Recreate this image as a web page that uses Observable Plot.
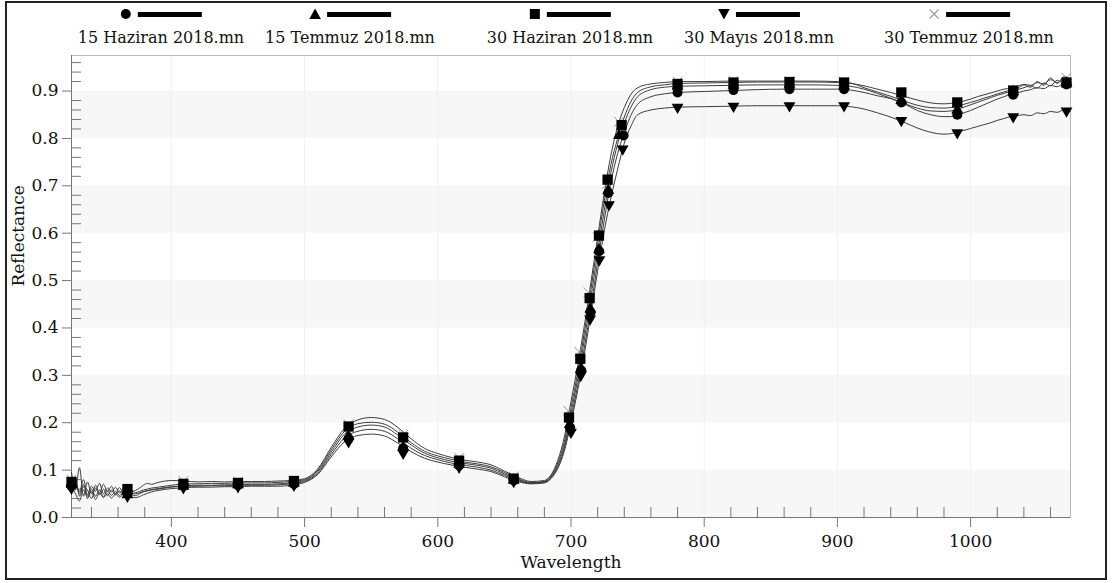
<!DOCTYPE html>
<html><head><meta charset="utf-8">
<script src="https://cdn.jsdelivr.net/npm/d3@7"></script>
<script src="https://cdn.jsdelivr.net/npm/@observablehq/plot@0.6"></script>
<style>
body{margin:0;background:#fff;font-family:"DejaVu Serif",serif;}
#wrap{position:relative;width:1113px;height:583px;overflow:hidden;}
#border{position:absolute;left:5px;top:1px;width:1102px;height:579px;border:2px solid #222;box-sizing:border-box;pointer-events:none;}
#legend{position:absolute;left:0;top:0;width:1113px;height:50px;}
.item{position:absolute;top:4px;transform:translateX(-50%);display:flex;flex-direction:column;align-items:center;}
.sym{height:20px;display:flex;align-items:center;gap:6px}
.bar{width:64px;height:5px;background:#000}
.lab{font-size:16px;color:#111;line-height:20px;white-space:nowrap;margin-top:4px}
#chart{position:absolute;left:0;top:50px;}
</style>
</head><body>
<div id="wrap"><div id="legend"></div><div id="chart"></div><div id="border"></div></div>
<script>
// ---- series names (legend order) ----
const seriesNames = ["15 Haziran 2018.mn", "15 Temmuz 2018.mn", "30 Haziran 2018.mn", "30 Mayıs 2018.mn", "30 Temmuz 2018.mn"];
const seriesSymbols = ["circle", "triangle", "square", "triangle-down", "times"];

// ---- wavelength grid (nm) ----
const wavelengths = [
  325,328,331,334,337,340,343,346,349,352,355,358,361,364,367,370,373,376,379,382,385,
  390,400,410,420,430,440,450,460,470,480,490,500,510,520,530,540,550,560,570,580,590,600,610,620,630,640,650,660,670,680,
  685,690,695,700,705,710,715,720,725,730,735,740,745,750,760,770,
  780,800,820,840,860,880,900,910,920,930,940,950,960,970,980,
  985,990,995,1000,1005,1010,1015,1020,1025,1030,1035,1040,1045,1050,1055,1060,1065,1070,1075
];

// ---- reflectance per series ----
const haziran15 = [
  0.060,0.075,0.050,0.070,0.040,0.060,0.045,0.058,0.044,0.056,0.047,0.055,0.046,0.054,0.048,0.050,0.050,0.052,0.055,0.057,0.059,
  0.061,0.065,0.066,0.066,0.067,0.067,0.068,0.068,0.068,0.069,0.071,0.076,0.094,0.133,0.168,0.182,0.186,0.182,0.166,0.146,0.131,0.122,0.115,0.110,0.106,0.100,0.089,0.078,0.072,0.074,
  0.084,0.106,0.146,0.210,0.278,0.358,0.445,0.538,0.628,0.708,0.768,0.812,0.849,0.872,0.888,0.894,
  0.897,0.899,0.901,0.903,0.904,0.904,0.904,0.902,0.897,0.890,0.884,0.873,0.859,0.850,0.846,
  0.846,0.849,0.854,0.859,0.865,0.871,0.877,0.883,0.888,0.893,0.896,0.900,0.903,0.907,0.905,0.912,0.909,0.916,0.913
];
const temmuz15 = [
  0.070,0.085,0.045,0.065,0.058,0.040,0.062,0.048,0.060,0.046,0.058,0.048,0.056,0.046,0.052,0.048,0.046,0.050,0.054,0.056,0.058,
  0.060,0.064,0.067,0.068,0.068,0.069,0.069,0.070,0.070,0.071,0.073,0.078,0.097,0.138,0.176,0.191,0.195,0.191,0.174,0.153,0.136,0.126,0.119,0.114,0.110,0.104,0.092,0.080,0.073,0.075,
  0.085,0.110,0.152,0.220,0.292,0.375,0.465,0.558,0.648,0.728,0.788,0.832,0.866,0.888,0.903,0.908,
  0.910,0.911,0.912,0.913,0.913,0.913,0.912,0.910,0.904,0.895,0.885,0.874,0.864,0.858,0.857,
  0.858,0.861,0.866,0.871,0.876,0.881,0.886,0.891,0.895,0.899,0.903,0.907,0.911,0.906,0.917,0.911,0.923,0.915,0.920
];
const haziran30 = [
  0.080,0.070,0.055,0.080,0.048,0.066,0.056,0.072,0.050,0.062,0.054,0.064,0.052,0.060,0.054,0.058,0.052,0.055,0.058,0.060,0.062,
  0.064,0.068,0.071,0.071,0.072,0.072,0.073,0.073,0.073,0.074,0.076,0.080,0.100,0.143,0.182,0.198,0.201,0.197,0.180,0.158,0.140,0.130,0.123,0.117,0.113,0.107,0.095,0.082,0.074,0.076,
  0.088,0.115,0.160,0.232,0.305,0.390,0.482,0.577,0.668,0.745,0.800,0.845,0.878,0.897,0.909,0.913,
  0.916,0.917,0.918,0.919,0.919,0.919,0.918,0.916,0.911,0.904,0.897,0.889,0.881,0.875,0.873,
  0.874,0.876,0.879,0.883,0.888,0.892,0.896,0.900,0.904,0.906,0.910,0.914,0.912,0.918,0.915,0.924,0.918,0.925,0.921
];
const mayis30 = [
  0.065,0.050,0.035,0.058,0.045,0.055,0.038,0.052,0.042,0.050,0.041,0.049,0.043,0.048,0.044,0.043,0.042,0.044,0.048,0.051,0.054,
  0.057,0.061,0.063,0.064,0.064,0.065,0.065,0.066,0.066,0.066,0.068,0.074,0.091,0.128,0.160,0.173,0.176,0.172,0.157,0.139,0.125,0.117,0.111,0.106,0.102,0.097,0.086,0.076,0.071,0.073,
  0.082,0.103,0.140,0.200,0.268,0.345,0.432,0.520,0.605,0.675,0.735,0.790,0.826,0.850,0.860,0.864,
  0.866,0.867,0.868,0.869,0.869,0.869,0.869,0.867,0.862,0.854,0.845,0.834,0.822,0.813,0.809,
  0.810,0.813,0.817,0.821,0.825,0.829,0.833,0.838,0.842,0.846,0.848,0.850,0.848,0.854,0.852,0.857,0.855,0.860,0.858
];
const temmuz30 = [
  0.095,0.060,0.105,0.045,0.075,0.050,0.068,0.052,0.070,0.055,0.066,0.050,0.063,0.052,0.060,0.055,0.057,0.062,0.068,0.072,0.070,
  0.074,0.078,0.077,0.075,0.076,0.075,0.076,0.076,0.076,0.077,0.078,0.082,0.103,0.148,0.188,0.206,0.211,0.207,0.190,0.166,0.146,0.135,0.127,0.121,0.117,0.111,0.098,0.085,0.076,0.078,
  0.090,0.120,0.170,0.245,0.320,0.405,0.497,0.592,0.685,0.765,0.825,0.865,0.893,0.907,0.915,0.918,
  0.920,0.920,0.921,0.921,0.921,0.921,0.920,0.917,0.907,0.898,0.889,0.879,0.870,0.865,0.864,
  0.865,0.867,0.872,0.876,0.880,0.885,0.889,0.894,0.898,0.902,0.905,0.913,0.908,0.920,0.912,0.928,0.916,0.930,0.924
];

// ---- marker positions per series (wavelength, reflectance) ----
const haziran15MarkWl = [325,367,409,450,492,533,574,616,657,699.3,707.7,714.7,721.2,728,739.5,780,822,864,905,948,990,1032,1072];
const haziran15MarkR  = [0.066,0.053,0.066,0.068,0.071,0.166,0.146,0.110,0.078,0.190,0.310,0.433,0.562,0.685,0.806,0.897,0.902,0.904,0.904,0.876,0.850,0.892,0.914];
const temmuz15MarkWl  = [325,367,409,450,492,533,574,616,657,699,707.5,714.5,721,728,736,780,822,864,905,948,990,1032,1072];
const temmuz15MarkR   = [0.070,0.048,0.066,0.069,0.072,0.172,0.148,0.112,0.079,0.196,0.315,0.440,0.565,0.690,0.806,0.910,0.912,0.913,0.911,0.880,0.860,0.899,0.917];
const haziran30MarkWl = [325,367,409,450,492,533,574,616,657,698.5,707,714,721,727.5,738,780,822,864,905,948,990,1032,1072];
const haziran30MarkR  = [0.075,0.060,0.071,0.073,0.077,0.192,0.169,0.120,0.082,0.211,0.335,0.463,0.595,0.713,0.828,0.915,0.918,0.919,0.918,0.897,0.876,0.901,0.918];
const mayis30MarkWl   = [325,367,409,450,492,533,574,616,657,700,707.3,714.3,721.3,728.5,738.8,780,822,864,905,948,990,1032,1072];
const mayis30MarkR    = [0.062,0.045,0.063,0.065,0.068,0.160,0.136,0.106,0.076,0.180,0.300,0.419,0.544,0.660,0.778,0.866,0.868,0.869,0.869,0.838,0.812,0.846,0.858];
const temmuz30MarkWl  = [325,367,409,450,492,533,574,616,657,698,706,713,720,727,736,780,822,864,905,948,990,1032,1072];
const temmuz30MarkR   = [0.080,0.058,0.077,0.076,0.078,0.196,0.175,0.126,0.086,0.225,0.350,0.475,0.592,0.704,0.835,0.920,0.921,0.921,0.920,0.885,0.867,0.902,0.928];

// ---- axes ----
const xMajorTicks = [400,500,600,700,800,900,1000];
const xMinorTicks = [340,360,380,420,440,460,480,520,540,560,580,620,640,660,680,720,740,760,780,820,840,860,880,920,940,960,980,1020,1040,1060];
const yMajorTicks = [0,0.1,0.2,0.3,0.4,0.5,0.6,0.7,0.8,0.9];
const yMinorTicks = [0.02,0.04,0.06,0.08,0.12,0.14,0.16,0.18,0.22,0.24,0.26,0.28,0.32,0.34,0.36,0.38,0.42,0.44,0.46,0.48,0.52,0.54,0.56,0.58,0.62,0.64,0.66,0.68,0.72,0.74,0.76,0.78,0.82,0.84,0.86,0.88,0.92,0.94,0.96];
const bandStarts = [0,0.2,0.4,0.6,0.8];
const xDomain = [325,1075];
const yDomain = [0,0.975];

// ---- build tables ----
const seriesValues = [haziran15, temmuz15, haziran30, mayis30, temmuz30];
const seriesMarkWl = [haziran15MarkWl, temmuz15MarkWl, haziran30MarkWl, mayis30MarkWl, temmuz30MarkWl];
const seriesMarkR  = [haziran15MarkR, temmuz15MarkR, haziran30MarkR, mayis30MarkR, temmuz30MarkR];

const lineData = [];
seriesValues.forEach((vals, s) => vals.forEach((r, i) => lineData.push({series: seriesNames[s], wl: wavelengths[i], r})));
const markData = seriesMarkWl.map((wls, s) => wls.map((wl, i) => ({series: seriesNames[s], wl, r: seriesMarkR[s][i]})));

// ---- legend ----
const legendSvg = {
  "circle": '<svg width="12" height="12"><circle cx="6" cy="6" r="5" fill="#000"/></svg>',
  "triangle": '<svg width="12" height="12"><polygon points="6,0.5 11.8,11 0.2,11" fill="#000"/></svg>',
  "square": '<svg width="12" height="12"><rect x="1" y="1" width="10" height="10" fill="#000"/></svg>',
  "triangle-down": '<svg width="12" height="12"><polygon points="0.2,1 11.8,1 6,11.5" fill="#000"/></svg>',
  "times": '<svg width="12" height="12"><path d="M1.5 1.5L10.5 10.5M10.5 1.5L1.5 10.5" stroke="#999" stroke-width="1.1"/></svg>'
};
const legendCenters = [161, 350, 570, 759, 969];
const legend = document.getElementById("legend");
seriesNames.forEach((name, i) => {
  const it = document.createElement("div");
  it.className = "item";
  it.style.left = legendCenters[i] + "px";
  it.innerHTML = `<div class="sym">${legendSvg[seriesSymbols[i]]}<div class="bar"></div></div><div class="lab">${name}</div>`;
  legend.appendChild(it);
});

// ---- chart ----
const dotOpts = (s) => {
  const sym = seriesSymbols[s];
  if (sym === "times") return {x: "wl", y: "r", symbol: "times", stroke: "#999", strokeWidth: 1, r: 4.5};
  if (sym === "triangle-down") return {x: "wl", y: "r", symbol: "triangle", rotate: 180, fill: "#000", r: 4.4};
  if (sym === "triangle") return {x: "wl", y: "r", symbol: "triangle", fill: "#000", r: 4.4};
  if (sym === "square") return {x: "wl", y: "r", symbol: "square", fill: "#000", r: 5.8};
  return {x: "wl", y: "r", symbol: "circle", fill: "#000", r: 5};
};
const drawOrder = [4, 3, 0, 1, 2];

const chart = Plot.plot({
  width: 1113, height: 533,
  marginTop: 5, marginLeft: 71, marginRight: 43, marginBottom: 66,
  x: {domain: xDomain},
  y: {domain: yDomain},
  style: {fontFamily: '"DejaVu Serif", serif', fontSize: "17px", color: "#111", background: "transparent"},
  marks: [
    Plot.rect(bandStarts, {y1: d => d, y2: d => d + 0.1, fill: "#f7f7f7"}),
    Plot.ruleX(xMajorTicks, {stroke: "#f0f0f0"}),
    Plot.frame({stroke: "#b8b8b8"}),
    Plot.axisX({ticks: xMinorTicks, tickSize: 10, dy: -10, tickFormat: () => "", label: null, stroke: "#777"}),
    Plot.axisX({ticks: xMajorTicks, tickSize: 10, tickPadding: 7, tickFormat: d3.format("d"), label: null, stroke: "#777", fill: "#111", fontSize: 17}),
    Plot.axisY({ticks: yMinorTicks, tickSize: 10, dx: 10, tickFormat: () => "", label: null, stroke: "#777"}),
    Plot.axisY({ticks: yMajorTicks, tickSize: 9, tickPadding: 4, tickFormat: d3.format(".1f"), label: null, stroke: "#777", fill: "#111", fontSize: 17}),
    Plot.ruleY([yDomain[0]], {stroke: "#777"}),
    Plot.ruleX([xDomain[0]], {stroke: "#777"}),
    Plot.line(lineData, {x: "wl", y: "r", z: "series", stroke: "#3c3c3c", strokeWidth: 1, curve: "monotone-x"}),
    ...drawOrder.map(s => Plot.dot(markData[s], dotOpts(s))),
    Plot.text(["Wavelength"], {frameAnchor: "bottom", dy: 50, fontSize: 17, fill: "#111"}),
    Plot.text(["Reflectance"], {frameAnchor: "left", dx: -53, rotate: -90, fontSize: 17, fill: "#111"})
  ]
});
document.getElementById("chart").appendChild(chart);
</script>
</body></html>
